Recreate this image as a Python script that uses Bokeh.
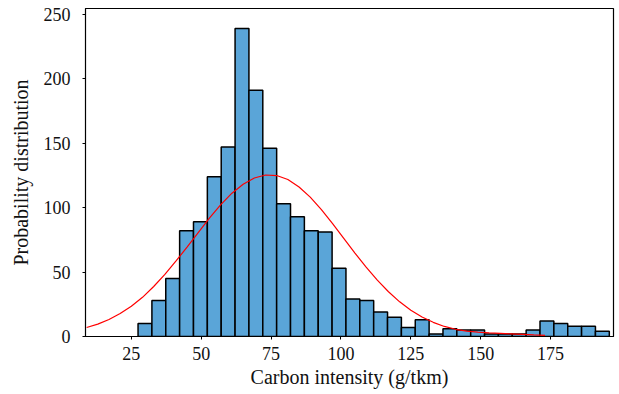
import numpy as np
from bokeh.plotting import figure
from bokeh.models import Range1d, FixedTicker
from bokeh.embed import file_html
from bokeh.resources import INLINE

# Histogram data (counts per bin)
bin_start = 27.4
bin_end = 196.0
counts = [10, 28, 45, 82, 89, 124, 147, 239, 191, 146,
          103, 93, 82, 81, 53, 29, 28, 19, 15, 7,
          13, 2, 6, 5, 5, 2, 2, 2, 5, 12,
          10, 8, 8, 4]

# Fitted density curve (scaled)
curve_x = [9, 13, 17, 21, 25, 29, 33, 37, 41, 45,
           49, 53, 57, 61, 65, 69, 73, 77, 81, 85,
           89, 93, 97, 101, 105, 109, 113, 117, 121, 125,
           129, 133, 137, 141, 145, 149, 153, 157, 161, 165,
           169, 173]
curve_y = [7.0, 9.6, 13.2, 17.8, 23.5, 30.4, 38.8, 48.2, 58.6, 69.6,
           80.8, 92.0, 102.3, 111.2, 118.2, 123.0, 125.3, 124.9, 121.8, 116.0,
           108.1, 98.4, 87.5, 76.1, 64.7, 53.8, 43.7, 34.7, 26.9, 20.4,
           15.1, 11.0, 7.8, 5.6, 4.2, 3.4, 2.8, 2.4, 2.0, 1.6,
           1.2, 0.9]

x_ticks = [25, 50, 75, 100, 125, 150, 175]
y_ticks = [0, 50, 100, 150, 200, 250]

edges = np.linspace(bin_start, bin_end, len(counts) + 1)

FONT = "Liberation Serif"

p = figure(width=619, height=394, output_backend="svg", toolbar_location=None,
           x_range=Range1d(8.6, 197.5), y_range=Range1d(0, 254.5),
           min_border_left=85, min_border_right=6, min_border_top=8,
           min_border_bottom=58)

p.quad(left=edges[:-1], right=edges[1:], bottom=0, top=counts,
       fill_color="#5aa5d8", line_color="black", line_width=1.5)
p.line(curve_x, curve_y, line_color="red", line_width=1.2)

p.grid.visible = False
p.outline_line_color = "black"
p.outline_line_width = 1.2
p.background_fill_color = "white"
p.border_fill_color = "white"

p.xaxis.ticker = FixedTicker(ticks=x_ticks)
p.yaxis.ticker = FixedTicker(ticks=y_ticks)
p.xaxis.axis_label = "Carbon intensity (g/tkm)"
p.yaxis.axis_label = "Probability distribution"

for ax in (p.xaxis[0], p.yaxis[0]):
    ax.axis_line_color = "black"
    ax.axis_line_width = 1
    ax.major_tick_in = 0
    ax.major_tick_out = 3
    ax.minor_tick_line_color = None
    ax.major_tick_line_color = "black"
    ax.major_label_text_font = FONT
    ax.major_label_text_font_size = "18px"
    ax.major_label_text_color = "#111111"
    ax.axis_label_text_font = FONT
    ax.axis_label_text_font_size = "20px"
    ax.axis_label_text_font_style = "normal"
    ax.axis_label_text_color = "#111111"

p.yaxis.major_label_standoff = 12
p.yaxis.axis_label_standoff = 9
p.xaxis.major_label_standoff = 7
p.xaxis.axis_label_standoff = 3

open("out.html", "w").write(file_html(p, INLINE))
